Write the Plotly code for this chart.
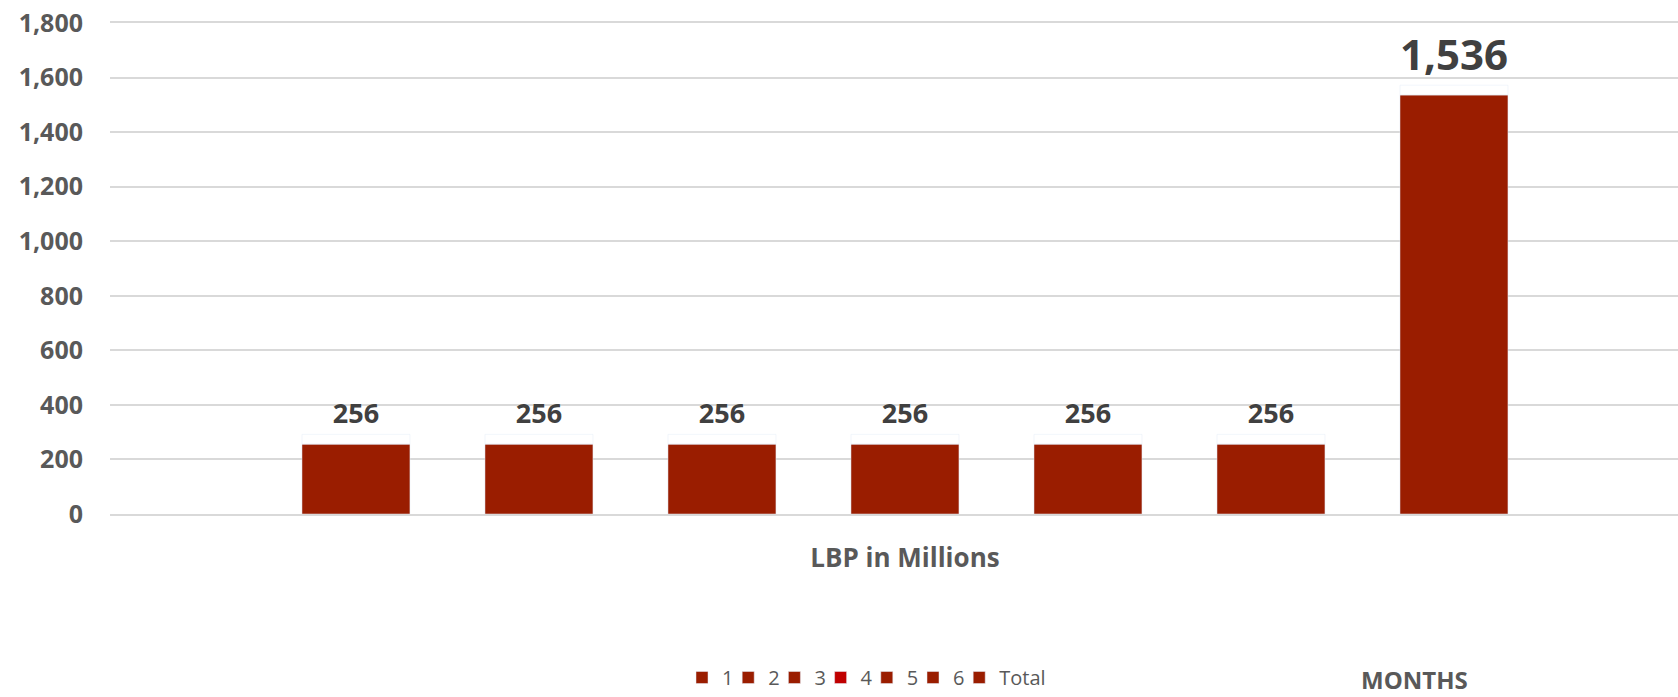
import plotly.graph_objects as go

# ---- data ----
category = ["LBP in Millions"]
series_names = ["1", "2", "3", "4", "5", "6", "Total"]
series_values = [256, 256, 256, 256, 256, 256, 1536]
y_tick_values = [0, 200, 400, 600, 800, 1000, 1200, 1400, 1600, 1800]

# ---- styles ----
bar_color = "#9A1D00"
legend_colors = ["#9A1D00", "#9A1D00", "#9A1D00", "#C00000", "#9A1D00", "#9A1D00", "#9A1D00"]
label_sizes = [27, 27, 27, 27, 27, 27, 42]
LABEL_PAD = 36  # gap between bar top and its data label, in axis units
FONT = "Open Sans"
AXIS_GREY = "#595959"
LABEL_GREY = "#404040"

# figure geometry (pixels)
FIG_W, FIG_H = 1678, 697
M_L, M_R, M_T, M_B = 110, 0, 23, 180
PLOT_W = FIG_W - M_L - M_R
LEGEND_SWATCH_X0 = 695   # left edge of the first legend swatch
LEGEND_STEP = 46.2       # distance between legend entries
SWATCH_OFFSET = 13       # swatch left edge relative to the legend box left edge

fig = go.Figure()
for i, (name, val) in enumerate(zip(series_names, series_values)):
    special = legend_colors[i] != bar_color
    grp = f"g{i}"
    leg = "legend" if i == 0 else f"legend{i + 1}"
    fig.add_trace(go.Bar(
        x=category, y=[val], name=name, offsetgroup=grp,
        marker=dict(color=bar_color),
        showlegend=not special, legend=leg,
        hoverinfo="skip",
    ))
    # transparent spacer in the same slot that carries the data label
    fig.add_trace(go.Bar(
        x=category, y=[LABEL_PAD], base=[val], offsetgroup=grp,
        marker=dict(color="rgba(0,0,0,0)"),
        text=[f"{val:,}"], textposition="outside",
        textfont=dict(family=FONT, size=label_sizes[i], color=LABEL_GREY, weight="bold"),
        cliponaxis=False, showlegend=False, hoverinfo="skip",
    ))
    if special:
        # legend swatch for the series colour (the bar itself is recoloured)
        fig.add_trace(go.Bar(
            x=[0], y=[1], name=name, xaxis="x2", yaxis="y2",
            marker=dict(color=legend_colors[i]), legend=leg,
            hoverinfo="skip",
        ))

legends = {}
for i in range(len(series_names)):
    key = "legend" if i == 0 else f"legend{i + 1}"
    left_px = LEGEND_SWATCH_X0 + i * LEGEND_STEP - SWATCH_OFFSET
    legends[key] = dict(
        orientation="h", yanchor="middle", y=-0.334, xanchor="left",
        x=(left_px - M_L) / PLOT_W,
        font=dict(family=FONT, size=20, color=AXIS_GREY),
        bgcolor="rgba(0,0,0,0)",
    )

fig.update_layout(
    width=FIG_W, height=FIG_H,
    margin=dict(l=M_L, r=M_R, t=M_T, b=M_B),
    paper_bgcolor="white", plot_bgcolor="white",
    barmode="group", bargap=0.1943, bargroupgap=0.41,
    font=dict(family=FONT, color=AXIS_GREY),
    xaxis=dict(
        type="category", range=[-0.5, 0.4862],
        showgrid=False, zeroline=False,
        showline=True, mirror=True, linecolor="#D9D9D9", linewidth=2,
        ticks="", ticklabelstandoff=20,
        tickfont=dict(family=FONT, size=26, color=AXIS_GREY, weight="bold"),
    ),
    yaxis=dict(
        range=[0, 1800], tickvals=y_tick_values, tickformat=",",
        showgrid=True, gridcolor="#D9D9D9", gridwidth=2,
        zeroline=False, showline=False, ticks="", ticklabelstandoff=26,
        tickfont=dict(family=FONT, size=25, color=AXIS_GREY, weight="bold"),
    ),
    xaxis2=dict(overlaying="x", visible=False, range=[10, 11]),
    yaxis2=dict(overlaying="y", visible=False, range=[0, 1]),
    showlegend=True,
    annotations=[dict(
        text="MONTHS", xref="paper", yref="paper", x=0.832, y=-0.337,
        xanchor="center", yanchor="middle", showarrow=False,
        font=dict(family=FONT, size=24, color=AXIS_GREY, weight="bold"),
    )],
    **legends,
)

fig.write_html(
    "out.html",
    config={"displayModeBar": False},
    post_script="document.body.style.margin='0';",
)
